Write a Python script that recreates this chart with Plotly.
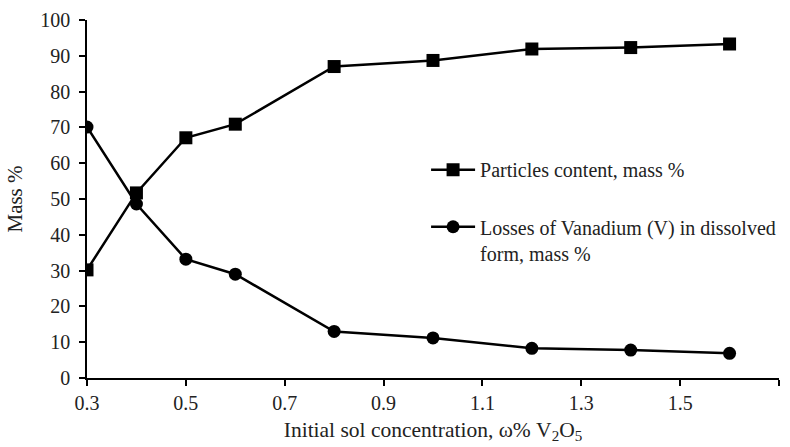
import plotly.graph_objects as go

# Initial sol concentration, ω% V2O5
concentration = [0.3, 0.4, 0.5, 0.6, 0.8, 1.0, 1.2, 1.4, 1.6]
# Particles content, mass %
particles = [30.2, 51.7, 67.1, 70.9, 87.0, 88.7, 91.9, 92.3, 93.3]
# Losses of Vanadium (V) in dissolved form, mass %
losses = [70.1, 48.6, 33.2, 29.0, 13.0, 11.2, 8.3, 7.8, 6.9]

x_ticks = [0.3, 0.5, 0.7, 0.9, 1.1, 1.3, 1.5, 1.7]
y_ticks = list(range(0, 101, 10))

FONT = "Liberation Serif"
TEXT = "#222"
fig = go.Figure()

fig.add_trace(go.Scatter(
    x=concentration, y=particles, mode="lines+markers",
    name="Particles content, mass %",
    line=dict(color="black", width=2.5),
    marker=dict(symbol="square", size=13, color="black"),
    legend="legend", showlegend=True,
))
fig.add_trace(go.Scatter(
    x=concentration, y=losses, mode="lines+markers",
    name="Losses of Vanadium (V) in dissolved<br>form, mass %",
    line=dict(color="black", width=2.5),
    marker=dict(symbol="circle", size=13, color="black"),
    legend="legend2", showlegend=True,
))

axis_common = dict(
    showline=True, linecolor="black", linewidth=1.5,
    ticks="outside", tickcolor="black", ticklen=6, tickwidth=1.5,
    showgrid=False, zeroline=False,
    tickfont=dict(family=FONT, size=20, color=TEXT),
)

legend_common = dict(
    xanchor="left", bgcolor="rgba(0,0,0,0)",
    font=dict(family=FONT, size=20, color=TEXT),
    itemwidth=44, valign="top",
)

fig.update_layout(
    width=790, height=447,
    margin=dict(l=87, r=9, t=18, b=66),
    paper_bgcolor="white", plot_bgcolor="white",
    showlegend=True,
    font=dict(family=FONT, size=20, color=TEXT),
    xaxis=dict(range=[0.3, 1.7], tickvals=x_ticks,
               ticktext=[f"{v:.1f}" for v in x_ticks],
               title=dict(text="Initial sol concentration, ω% V<sub>2</sub>O<sub>5</sub>",
                          font=dict(family=FONT, size=21.5, color=TEXT), standoff=9),
               **axis_common),
    yaxis=dict(range=[0, 100], tickvals=y_ticks, ticklabelstandoff=5,
               title=dict(text="Mass %", font=dict(family=FONT, size=21, color=TEXT),
                          standoff=12),
               **axis_common),
    legend=dict(x=0.49, y=0.582, yanchor="middle", **legend_common),
    legend2=dict(x=0.49, y=0.477, yanchor="top", **legend_common),
)

fig.write_html("out.html")
